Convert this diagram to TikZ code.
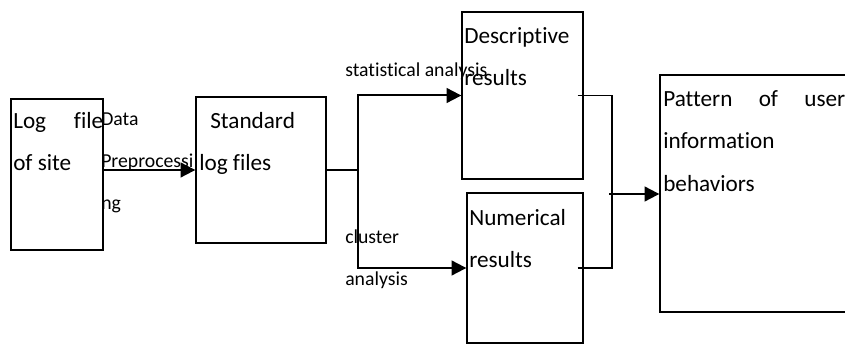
\documentclass[tikz,border=0pt]{standalone}
\usepackage{fontspec}
\setmainfont{Carlito}[Ligatures={NoCommon}]
\usetikzlibrary{positioning,arrows.meta,fit}
\tikzset{
  blk/.style   = {draw, line width=1pt, inner sep=0pt},
  trunk/.style = {line width=1pt},
  arr/.style   = {line width=1.5pt, -{Triangle[length=11pt,width=11pt]}},
  txt/.style   = {anchor=north west, inner sep=0pt, align=left,
                  font=\fontsize{17.4}{31.9}\selectfont},
  stxt/.style  = {txt, font=\fontsize{14.8}{31.5}\selectfont},
}

\begin{document}
\begin{tikzpicture}[x=0.75pt, y=-0.75pt]
  \useasboundingbox (0,0) rectangle (845,345);
  \clip (0,0) rectangle (845,345);
  % boxes
  \node[blk, fit={(11,99)(103,250)}] (logf) {};
  \node[blk, fit={(196,97)(326,243)}] (std) {};
  \node[blk, fit={(462,12)(583,179)}] (desc) {};
  \node[blk, fit={(467,193)(583,343)}] (num) {};
  \node[blk, fit={(660,75)(880,312)}] (patt) {};
  % box texts
  \node[txt] (logt) at (13,112) {\makebox[67.5pt][s]{Log file}\\of site};
  \node[txt] (stdt) at (199,112) {\hspace*{8.25pt}Standard\\log files};
  \node[txt] (desct) at (464,27) {Descriptive\\results};
  \node[txt] (numt) at (469,209) {Numerical\\results};
  \node[txt] (pattt) at (663,90) {\makebox[136.5pt][s]{Pattern of user}\\information\\behaviors};
  % connectors
  \coordinate (split) at (358,170);
  \coordinate (jn) at (612,194);
  \draw[arr] (logf.east |- std.west) -- (std.west);
  \draw[trunk] (std.east) -- (split);
  \draw[arr] (split) |- (desc.west);
  \draw[arr] (split) |- (num.west);
  \draw[trunk] ([xshift=-4.5pt]desc.east) -| (jn);
  \draw[trunk] ([xshift=-4.5pt]num.east) -| (jn);
  \draw[arr] ([xshift=-2.25pt]jn) -- (jn -| patt.west);
  % edge labels
  \node[stxt] (prep) at (101,113) {Data\\Preprocessi\\ng};
  \node[stxt] (stat) at (345,63) {statistical analysis};
  \node[stxt] (clus) at (345,230) {cluster\\analysis};
\end{tikzpicture}
\end{document}
